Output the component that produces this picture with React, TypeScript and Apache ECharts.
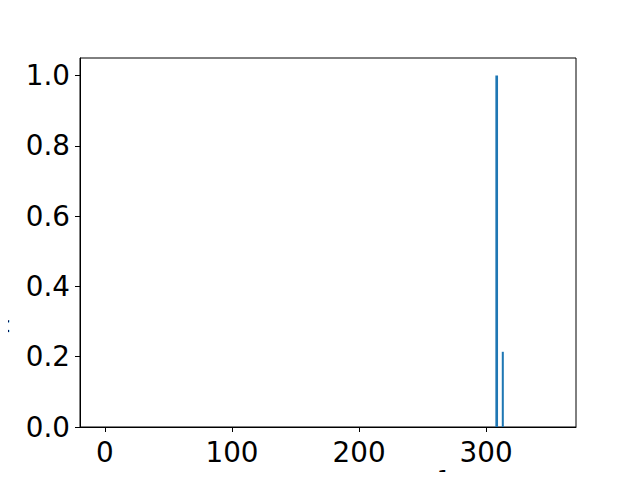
import React, { useEffect, useRef } from "react";
import * as echarts from "echarts";

const frequencies = [308.3, 313.1];
const intensities = [1.0, 0.214];
const barWidths = [2.1, 1.6];
const xTicks = [0, 100, 200, 300];
const yTicks = [0, 0.2, 0.4, 0.6, 0.8, 1.0];
// axis titles as [text, kind] pieces: n = normal, i = italic, sub = subscript, sup = superscript
const xLabelParts: [string, string][] = [["Frequency (cm", "n"], ["−1", "sup"], [")", "n"]];
const yLabelParts: [string, string][] = [
  ["I", "i"],
  ["R", "sub"],
  [" (e", "n"],
  ["2", "sup"],
  [" amu", "n"],
  ["−1", "sup"],
  [")", "n"],
];

const FONT = "DejaVu Sans";
const TICK_FS = 27.8;
const LABEL_FS = 30.5;
const SMALL_FS = 21.35;

function buildLabel(parts: [string, string][]) {
  const ctx = document.createElement("canvas").getContext("2d")!;
  const items = parts.map(([text, kind]) => {
    const small = kind === "sub" || kind === "sup";
    const italic = kind === "i" || kind === "sub";
    const size = small ? SMALL_FS : LABEL_FS;
    ctx.font = `${italic ? "italic " : ""}${size}px "${FONT}"`;
    const w = ctx.measureText(text).width;
    const shift = kind === "sub" ? 6 : kind === "sup" ? -14.1 : 0;
    const center = shift - 0.346 * size;
    return { text, size, italic, w, center };
  });
  const total = items.reduce((s, it) => s + it.w, 0);
  let cx = -total / 2;
  return items.map((it) => {
    const el = {
      type: "text",
      x: cx,
      y: it.center,
      silent: true,
      style: {
        text: it.text,
        fontFamily: FONT,
        fontSize: it.size,
        fontStyle: it.italic ? "italic" : "normal",
        fill: "#000",
        textAlign: "left",
        textVerticalAlign: "middle",
        align: "left",
        verticalAlign: "middle",
      },
    };
    cx += it.w;
    return el;
  });
}

export default function App() {
  const ref = useRef<HTMLDivElement>(null);
  useEffect(() => {
    if (!ref.current) return;
    const chart = echarts.init(ref.current, null, { renderer: "svg" });
    const gridLeft = 80;
    const gridRight = 64;
    const gridTop = 58;
    const gridBottom = 53;
    const midX = gridLeft + (640 - gridLeft - gridRight) / 2;
    const midY = gridTop + (480 - gridTop - gridBottom) / 2;
    chart.setOption({
      animation: false,
      backgroundColor: "#ffffff",
      grid: {
        left: gridLeft,
        right: gridRight,
        top: gridTop,
        bottom: gridBottom,
        show: true,
        borderColor: "#000",
        borderWidth: 1,
        containLabel: false,
        outerBoundsMode: "none",
      },
      graphic: [
        { type: "group", x: midX, y: 499.7, children: buildLabel(xLabelParts) },
        {
          type: "group",
          x: 3,
          y: midY,
          rotation: Math.PI / 2,
          children: buildLabel(yLabelParts),
        },
      ],
      xAxis: {
        type: "value",
        min: -19.6,
        max: 370.7,
        axisLine: { show: true, onZero: false, lineStyle: { color: "#000", width: 1 } },
        axisTick: { show: true, inside: false, length: 5, lineStyle: { color: "#000" }, customValues: xTicks },
        axisLabel: { fontFamily: FONT, fontSize: TICK_FS, color: "#000", margin: 11, customValues: xTicks },
        splitLine: { show: false },
      },
      yAxis: {
        type: "value",
        min: 0,
        max: 1.05,
        axisLine: { show: true, onZero: false, lineStyle: { color: "#000", width: 1 } },
        axisTick: { show: true, inside: false, length: 5, lineStyle: { color: "#000" }, customValues: yTicks },
        axisLabel: {
          fontFamily: FONT,
          fontSize: TICK_FS,
          color: "#000",
          margin: 10,
          customValues: yTicks,
          formatter: (v: number) => v.toFixed(1),
        },
        splitLine: { show: false },
      },
      series: [
        {
          type: "custom",
          data: frequencies.map((f, i) => [f, intensities[i], barWidths[i]]),
          renderItem: (params: any, api: any) => {
            const x = api.value(0);
            const y = api.value(1);
            const w = api.value(2);
            const p0 = api.coord([x - w / 2, 0]);
            const p1 = api.coord([x + w / 2, y]);
            return {
              type: "rect",
              shape: { x: p0[0], y: p1[1], width: p1[0] - p0[0], height: p0[1] - p1[1] },
              style: { fill: "#1f77b4" },
            };
          },
        },
      ],
    });
    return () => chart.dispose();
  }, []);
  return <div ref={ref} style={{ width: 640, height: 480, margin: -8 }} />;
}
